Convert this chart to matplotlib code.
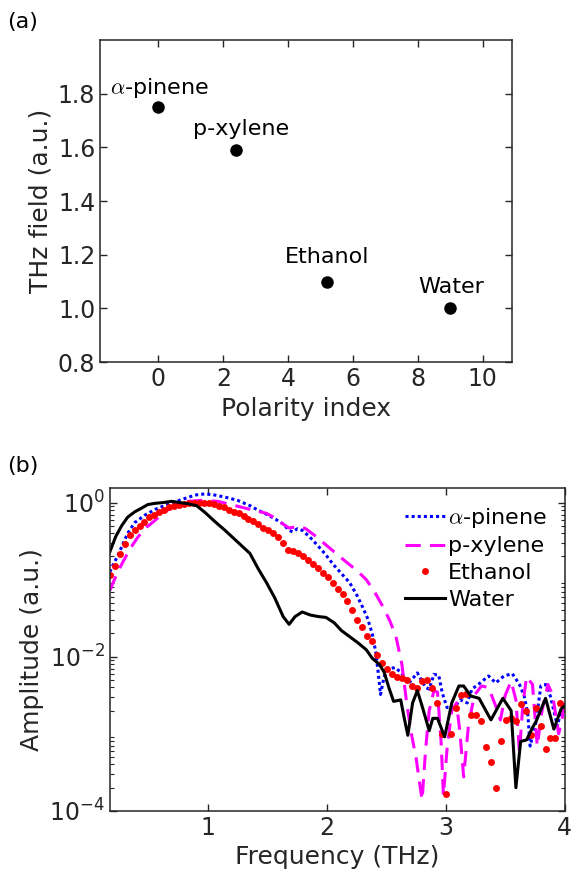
import numpy as np
import matplotlib
matplotlib.use("Agg")
import matplotlib.pyplot as plt
from matplotlib.ticker import FuncFormatter, LogLocator, NullFormatter

plt.rcParams['font.family'] = ['DejaVu Sans']
plt.rcParams['mathtext.fontset'] = 'cm'
plt.rcParams['axes.edgecolor'] = '#262626'
plt.rcParams['xtick.color'] = '#262626'
plt.rcParams['ytick.color'] = '#262626'

# ---- panel (a): THz field vs polarity index
solvents = [r'$\alpha$-pinene', 'p-xylene', 'Ethanol', 'Water']
polarity = [0.0, 2.4, 5.2, 9.0]
thz_field = [1.75, 1.59, 1.10, 1.00]
thz_err = [0.0, 0.0, 0.0, 0.02]
label_pos = [(-1.5, 1.82), (1.05, 1.67), (3.9, 1.19), (8.0, 1.08)]

# ---- panel (b): spectra, frequency (THz) and log10 amplitude
pinene_f = [0.17, 0.20, 0.24, 0.28, 0.32, 0.38, 0.46, 0.55, 0.63, 0.72, 0.83, 0.90, 0.97,
            1.03, 1.08, 1.17, 1.25, 1.35, 1.42, 1.50, 1.57, 1.63, 1.68, 1.71, 1.75, 1.79,
            1.85, 1.91, 1.98, 2.05, 2.12, 2.19, 2.25, 2.30, 2.34, 2.38, 2.41, 2.43, 2.45,
            2.48, 2.52, 2.57, 2.62, 2.69, 2.76, 2.83, 2.86, 2.90, 2.94, 2.97, 3.01, 3.07,
            3.12, 3.18, 3.22, 3.29, 3.36, 3.42, 3.49, 3.56, 3.62, 3.66, 3.69, 3.71, 3.76,
            3.80, 3.84, 3.88, 3.94, 3.97, 4.00]
pinene_log = [-0.90, -0.80, -0.68, -0.54, -0.40, -0.26, -0.168, -0.09, -0.04, 0.01, 0.068,
              0.10, 0.112, 0.104, 0.09, 0.06, 0.026, -0.04, -0.10, -0.16, -0.22, -0.28,
              -0.36, -0.38, -0.34, -0.36, -0.44, -0.54, -0.66, -0.80, -0.92, -1.04, -1.20,
              -1.36, -1.50, -1.70, -1.94, -2.20, -2.49, -2.26, -2.16, -2.14, -2.20, -2.34,
              -2.21, -2.40, -2.42, -2.23, -2.24, -2.47, -2.66, -2.66, -2.56, -2.60, -2.42,
              -2.34, -2.25, -2.34, -2.25, -2.22, -2.36, -2.51, -2.74, -3.16, -2.84,
              -2.38, -2.36, -2.51, -2.90, -2.70, -2.60]

xylene_f = [0.17, 0.22, 0.27, 0.34, 0.41, 0.48, 0.55, 0.62, 0.69, 0.76, 0.83, 0.95, 1.08,
            1.20, 1.33, 1.41, 1.49, 1.56, 1.63, 1.68, 1.72, 1.77, 1.82, 1.89, 1.96, 2.06,
            2.16, 2.25, 2.33, 2.40, 2.47, 2.53, 2.58, 2.63, 2.67, 2.71, 2.75, 2.80, 2.83,
            2.86, 2.90, 2.93, 2.96, 2.98, 3.01, 3.05, 3.09, 3.12, 3.15, 3.19, 3.24, 3.30,
            3.36, 3.42, 3.46, 3.50, 3.55, 3.59, 3.62, 3.65, 3.68, 3.73, 3.77, 3.81, 3.86,
            3.90, 3.95, 3.98, 4.00]
xylene_log = [-1.14, -0.96, -0.80, -0.60, -0.44, -0.32, -0.232, -0.14, -0.06, -0.01, 0.016,
              0.03, 0.016, -0.03, -0.08, -0.11, -0.14, -0.20, -0.28, -0.33, -0.32,
              -0.31, -0.34, -0.42, -0.51, -0.64, -0.77, -0.88, -1.00, -1.16, -1.35,
              -1.54, -1.74, -2.10, -2.60, -3.00, -3.32, -3.86, -3.20, -2.70, -2.44, -2.46,
              -3.10, -3.80, -3.20, -2.70, -2.60, -3.00, -3.56, -2.90, -2.50, -2.38, -2.40,
              -2.64, -2.82, -2.50, -2.32, -2.56, -3.24, -2.60, -2.26, -2.36, -3.16, -2.70,
              -2.36, -2.50, -3.00, -2.80, -2.50]

# ethanol is sampled every ~0.0417 THz starting at 0.17 THz
ethanol_f0, ethanol_df = 0.17, 0.0417
ethanol_log = [-0.94, -0.82, -0.67, -0.54, -0.42, -0.35, -0.31, -0.25, -0.19, -0.156,
               -0.12, -0.09, -0.064, -0.044, -0.028, -0.016, -0.006, 0.0, 0.0, 0.0,
               -0.008, -0.024, -0.04, -0.06, -0.09, -0.116, -0.136, -0.18, -0.21, -0.24,
               -0.28, -0.33, -0.36, -0.40, -0.45, -0.52, -0.61, -0.63, -0.65, -0.69,
               -0.748, -0.80, -0.85, -0.91, -0.97, -1.04, -1.12, -1.19, -1.28, -1.40,
               -1.53, -1.62, -1.73, -1.80, -1.98, -2.08, -2.16, -2.22, -2.26, -2.28,
               -2.30, -2.38, -2.40, -2.32, -2.30, -2.40, -2.60, -3.00, -3.78, -3.00,
               -2.67, -2.50, -2.49, -2.76, -2.76, -2.84, -3.17, -3.36, -3.70, -3.10,
               -2.82, -2.80, -2.84, -2.62, -2.70, -3.02, -2.66, -2.90, -3.20, -3.06,
               -3.06, -2.60]

water_f = [0.17, 0.22, 0.27, 0.32, 0.38, 0.44, 0.49, 0.55, 0.62, 0.69, 0.76, 0.83, 0.90,
           0.97, 1.05, 1.14, 1.21, 1.28, 1.35, 1.42, 1.49, 1.56, 1.63, 1.68, 1.73, 1.79,
           1.86, 1.93, 1.99, 2.06, 2.12, 2.19, 2.26, 2.33, 2.38, 2.44, 2.48, 2.52, 2.56,
           2.62, 2.65, 2.68, 2.72, 2.76, 2.80, 2.86, 2.89, 2.93, 2.99, 3.05, 3.11, 3.15,
           3.21, 3.28, 3.38, 3.48, 3.55, 3.59, 3.63, 3.68, 3.73, 3.76, 3.84, 3.91, 3.97, 4.00]
water_log = [-0.64, -0.44, -0.30, -0.19, -0.12, -0.07, -0.026, -0.01, 0.0, 0.016, 0.0,
             -0.016, -0.04, -0.126, -0.24, -0.36, -0.46, -0.56, -0.66, -0.86, -1.04, -1.24,
             -1.48, -1.58, -1.48, -1.42, -1.46, -1.48, -1.49, -1.56, -1.66, -1.74, -1.82,
             -1.91, -2.02, -2.10, -2.20, -2.40, -2.58, -2.56, -2.80, -3.02, -2.60, -2.44,
             -2.64, -2.96, -2.80, -2.80, -3.04, -2.60, -2.38, -2.38, -2.51, -2.54, -2.82,
             -2.54, -2.70, -3.70, -3.10, -3.08, -2.92, -2.84, -2.54, -2.94, -2.68, -2.64]

fig = plt.figure(figsize=(5.72, 8.92), dpi=100)

# ---------------- (a)
ax1 = fig.add_axes([0.175, 0.594, 0.720, 0.361])
ax1.errorbar(polarity, thz_field, yerr=thz_err, fmt='o', color='k', ms=8,
             elinewidth=1.5, capsize=0)
for name, (tx, ty) in zip(solvents, label_pos):
    ax1.text(tx, ty, name, fontsize=16, va='center', ha='left')
ax1.set_xlim(-1.8, 10.9)
ax1.set_ylim(0.8, 2.0)
ax1.set_xticks([0, 2, 4, 6, 8, 10])
ax1.set_yticks([0.8, 1.0, 1.2, 1.4, 1.6, 1.8])
ax1.yaxis.set_major_formatter(FuncFormatter(lambda v, p: f'{v:.1f}'))
ax1.set_xlabel('Polarity index', fontsize=18, color='#262626')
ax1.set_ylabel('THz field (a.u.)', fontsize=18, color='#262626')
ax1.tick_params(direction='in', top=True, right=True, labelsize=17, length=5, width=1)
for s in ax1.spines.values():
    s.set_linewidth(1.1)

# ---------------- (b)
ax2 = fig.add_axes([0.192, 0.091, 0.795, 0.362])
ethanol_f = ethanol_f0 + ethanol_df * np.arange(len(ethanol_log))
ax2.plot(pinene_f, 10 ** np.array(pinene_log), color='#0000ff', lw=2.2, ls=(0, (1, 1)),
         label=r'$\alpha$-pinene')
ax2.plot(xylene_f, 10 ** np.array(xylene_log), color='#ff00ff', lw=2.2, ls=(0, (5, 3)),
         label='p-xylene')
ax2.plot(ethanol_f, 10 ** np.array(ethanol_log), color='#ff0000', ls='none', marker='o',
         ms=5, mec='none', label='Ethanol')
ax2.plot(water_f, 10 ** np.array(water_log), color='k', lw=2.2, label='Water')
ax2.set_yscale('log')
ax2.set_xlim(0.17, 4.0)
ax2.set_ylim(1e-4, 10 ** 0.19)
ax2.set_xticks([1, 2, 3, 4])
ax2.set_yticks([1e-4, 1e-2, 1e0])
ax2.yaxis.set_major_formatter(
    FuncFormatter(lambda v, p: r'$\mathregular{10^{%d}}$' % round(np.log10(v))))
ax2.yaxis.set_minor_locator(LogLocator(base=10, subs=np.arange(2, 10), numticks=20))
ax2.yaxis.set_minor_formatter(NullFormatter())
ax2.set_xlabel('Frequency (THz)', fontsize=18, color='#262626')
ax2.set_ylabel('Amplitude (a.u.)', fontsize=18, color='#262626')
ax2.tick_params(direction='in', top=True, right=True, labelsize=17, length=5, width=1)
ax2.tick_params(which='minor', direction='in', right=True, length=3, width=0.8)
for s in ax2.spines.values():
    s.set_linewidth(1.1)
ax2.legend(loc='upper right', frameon=False, fontsize=16, handlelength=1.8,
           handletextpad=0.15, labelspacing=0.3, borderaxespad=0.4)

fig.text(0.012, 0.975, '(a)', fontsize=16, va='center')
fig.text(0.012, 0.478, '(b)', fontsize=16, va='center')

fig.savefig('out.png', dpi=100)
